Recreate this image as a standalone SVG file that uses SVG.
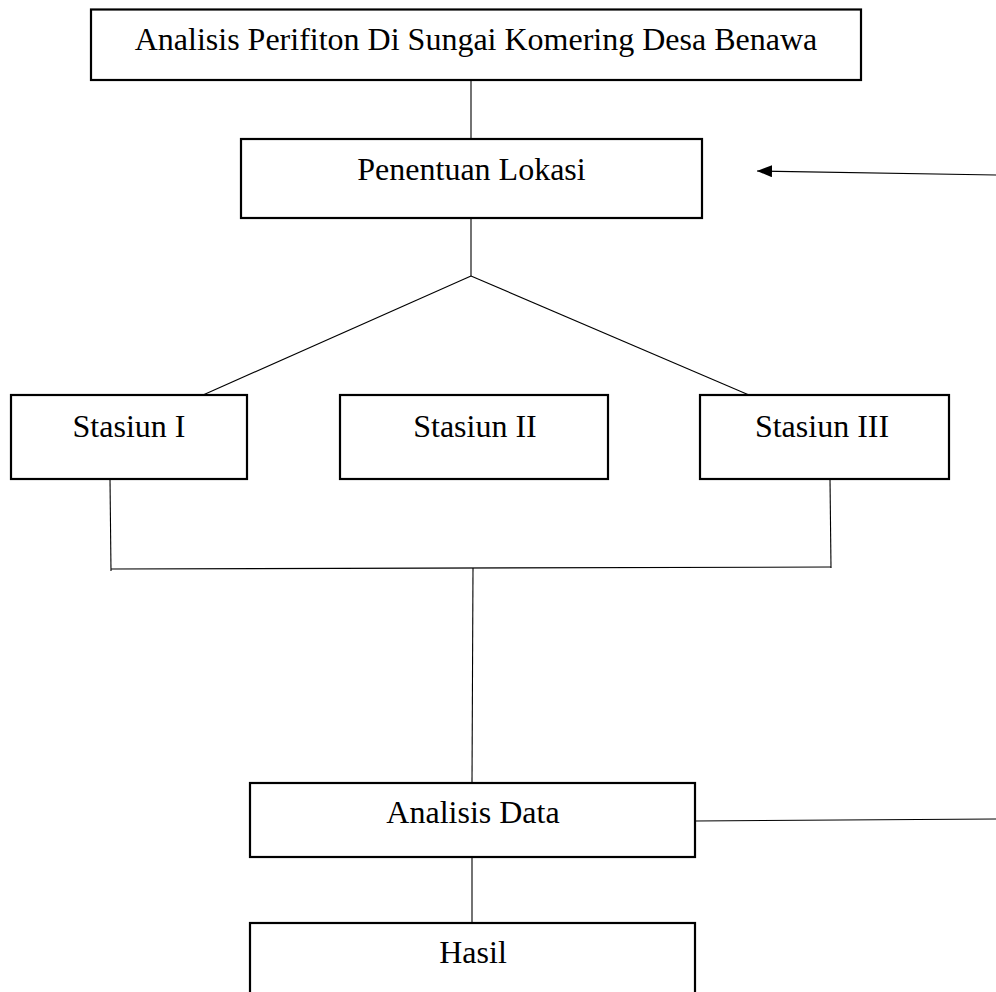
<svg xmlns="http://www.w3.org/2000/svg" width="996" height="992" viewBox="0 0 996 992">
<style>
.box{fill:#fff;stroke:#000;stroke-width:2.2}
.lbl{font-family:"Liberation Serif","Times New Roman",serif;font-size:32px;fill:#000;text-anchor:middle}
.con{fill:none;stroke:#000;stroke-width:1.1}
</style>
<defs>
<marker id="ah" markerWidth="15" markerHeight="12" refX="15" refY="6" orient="auto" markerUnits="userSpaceOnUse">
<path d="M0,0 L15,6 L0,12 Z" fill="#000"/>
</marker>
</defs>
<rect width="996" height="992" fill="#fff"/>
<g id="connectors">
<line class="con" x1="471" y1="80" x2="471" y2="139"/>
<line class="con" x1="471" y1="218" x2="471" y2="276"/>
<line class="con" x1="471" y1="276" x2="203" y2="395"/>
<line class="con" x1="471" y1="276" x2="749" y2="395"/>
<line class="con" x1="110" y1="479" x2="111" y2="571"/>
<line class="con" x1="830" y1="479" x2="831" y2="568"/>
<line class="con" x1="111" y1="569" x2="831" y2="567"/>
<line class="con" x1="473" y1="568" x2="472" y2="783"/>
<line class="con" x1="472" y1="857" x2="472" y2="923"/>
<line class="con" x1="695" y1="821" x2="996" y2="819"/>
<line class="con" x1="996" y1="175" x2="757" y2="171" marker-end="url(#ah)"/>
</g>
<g id="node-top">
<rect class="box" x="91" y="9.5" width="770" height="70.5"/>
<text class="lbl" x="476" y="50">Analisis Perifiton Di Sungai Komering Desa Benawa</text>
</g>
<g id="node-lokasi">
<rect class="box" x="241" y="139" width="461" height="79"/>
<text class="lbl" x="471.5" y="180">Penentuan Lokasi</text>
</g>
<g id="node-s1">
<rect class="box" x="11" y="395" width="236" height="84"/>
<text class="lbl" x="129" y="437">Stasiun I</text>
</g>
<g id="node-s2">
<rect class="box" x="340" y="395" width="268" height="84"/>
<text class="lbl" x="475" y="437">Stasiun II</text>
</g>
<g id="node-s3">
<rect class="box" x="700" y="395" width="249" height="84"/>
<text class="lbl" x="822" y="437">Stasiun III</text>
</g>
<g id="node-analisis">
<rect class="box" x="250" y="783" width="445" height="74"/>
<text class="lbl" x="473" y="823">Analisis Data</text>
</g>
<g id="node-hasil">
<rect class="box" x="250" y="923" width="445" height="80"/>
<text class="lbl" x="473" y="963">Hasil</text>
</g>
</svg>
